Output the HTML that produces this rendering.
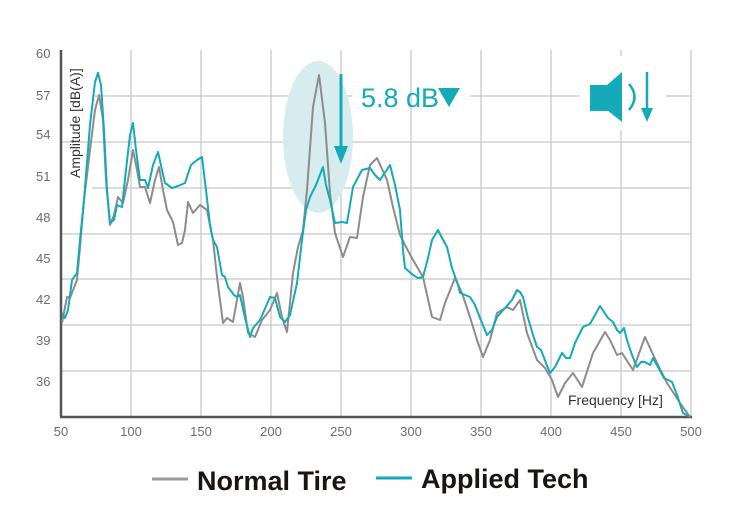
<!DOCTYPE html>
<html><head><meta charset="utf-8"><style>
html,body{margin:0;padding:0;background:#fff;}
svg{display:block;font-family:"Liberation Sans",sans-serif;}
</style></head><body>
<svg width="740" height="520" viewBox="0 0 740 520" xmlns="http://www.w3.org/2000/svg">
<g stroke="#c8c8c8" stroke-width="1.3" fill="none">
  <line x1="131" y1="50" x2="131" y2="417"/>
  <line x1="201" y1="50" x2="201" y2="417"/>
  <line x1="271" y1="50" x2="271" y2="417"/>
  <line x1="341" y1="50" x2="341" y2="417"/>
  <line x1="411" y1="50" x2="411" y2="417"/>
  <line x1="481" y1="50" x2="481" y2="417"/>
  <line x1="551" y1="50" x2="551" y2="417"/>
  <line x1="621" y1="50" x2="621" y2="56"/><line x1="621" y1="130" x2="621" y2="417"/>
  <line x1="691" y1="50" x2="691" y2="417"/>
  <line x1="92" y1="96" x2="352" y2="96"/><line x1="470" y1="96" x2="580" y2="96"/><line x1="666" y1="96" x2="691" y2="96"/>
  <line x1="61" y1="142" x2="691" y2="142"/>
  <line x1="92" y1="188" x2="691" y2="188"/>
  <line x1="61" y1="234" x2="691" y2="234"/>
  <line x1="61" y1="279" x2="691" y2="279"/>
  <line x1="61" y1="325" x2="691" y2="325"/>
  <line x1="61" y1="371" x2="691" y2="371"/>
</g>
<ellipse cx="318" cy="137" rx="35" ry="76" fill="#d6ecef"/>
<g stroke="#555" stroke-width="2.5"><line x1="61" y1="50" x2="61" y2="417"/><line x1="60" y1="417" x2="692" y2="417"/></g>
<g fill="#6b6b6b" font-size="13">
  <text x="36" y="58">60</text><text x="36" y="100">57</text><text x="36" y="139">54</text><text x="36" y="181">51</text><text x="36" y="222">48</text><text x="36" y="263">45</text><text x="36" y="304">42</text><text x="36" y="345">39</text><text x="36" y="386">36</text>
  <g text-anchor="middle"><text x="61" y="436">50</text><text x="131" y="436">100</text><text x="201" y="436">150</text><text x="271" y="436">200</text><text x="341" y="436">250</text><text x="411" y="436">300</text><text x="481" y="436">350</text><text x="551" y="436">400</text><text x="621" y="436">450</text><text x="691" y="436">500</text></g>
</g>
<text x="0" y="0" transform="translate(80,178) rotate(-90)" font-size="14" fill="#333">Amplitude [dB(A)]</text>
<text x="568" y="405" font-size="14" fill="#333">Frequency [Hz]</text>
<polyline fill="none" stroke="#8c8c8c" stroke-width="2" stroke-linejoin="round" points="62,323 67,297 70,298 77,280 80,247 84,200 90,150 95,110 99,95 103,120 106,180 110,225 114,215 118,197 123,203 128,180 133,150 137,170 140,187 145,187 150,203 155,180 159,167 163,190 167,210 173,222 178,245 182,243 185,230 188,202 193,213 200,205 207,210 213,240 217,277 223,323 227,318 233,322 240,283 243,297 248,333 255,337 262,320 270,310 277,293 282,317 287,332 293,273 298,247 303,230 307,190 313,107 319,75 325,123 330,193 335,233 343,257 350,237 357,238 363,197 370,165 377,158 387,180 393,207 400,235 405,245 413,260 423,277 432,317 440,320 445,303 455,278 462,293 470,317 477,340 483,357 490,340 497,313 507,307 513,310 520,300 527,333 537,360 545,368 552,380 558,397 565,383 573,373 582,387 593,353 605,332 610,340 617,355 622,353 633,370 645,337 650,348 657,363 667,383 680,403 690,417"/>
<polyline fill="none" stroke="#14aab9" stroke-width="2" stroke-linejoin="round" points="62,313 65,318 68,310 72,280 77,273 80,240 84,200 90,125 95,82 98,73 101,85 104,130 107,190 110,223 114,220 117,205 122,207 126,170 130,135 133,123 136,150 140,180 145,180 148,188 153,165 158,152 162,170 165,183 172,188 178,186 185,183 191,165 197,160 202,157 206,190 210,225 213,240 217,247 222,275 225,277 228,287 234,295 237,297 240,295 245,318 250,337 253,328 260,320 270,297 275,298 280,317 285,322 290,315 297,283 302,240 306,210 310,197 316,185 323,167 326,185 330,200 335,223 342,222 347,223 353,187 362,170 370,168 375,175 380,180 390,165 395,185 400,210 403,250 405,268 413,275 418,278 423,277 428,258 432,240 438,230 442,238 447,247 452,268 458,285 460,293 465,295 470,297 475,305 480,318 487,335 492,330 497,317 505,308 512,300 517,290 520,292 523,297 528,318 533,335 537,347 541,350 546,363 550,373 555,367 562,353 566,358 570,358 575,343 583,327 590,324 595,315 600,306 604,312 608,318 613,322 617,330 620,333 624,328 627,340 632,355 637,367 641,362 645,362 650,365 653,358 658,367 664,378 672,382 677,395 683,413 690,417"/>
<line x1="341" y1="74" x2="341" y2="150" stroke="#14aab9" stroke-width="3"/>
<polygon points="334,146 348,146 341,164" fill="#14aab9"/>
<text x="361" y="107" font-size="27" fill="#14aab9">5.8 dB</text>
<polygon points="438,88 460,88 449,107" fill="#14aab9"/>
<rect x="590" y="85" width="19" height="26" fill="#14aab9"/>
<polygon points="607,85 622,72 622,122 607,110" fill="#14aab9"/>
<path d="M629,84 Q640,97 629,110" fill="none" stroke="#14aab9" stroke-width="2.5"/>
<line x1="647" y1="72" x2="647" y2="112" stroke="#14aab9" stroke-width="2.5"/>
<polygon points="641,108 653,108 647,122" fill="#14aab9"/>
<line x1="152" y1="479" x2="188" y2="479" stroke="#9a9a9a" stroke-width="3"/>
<text x="197" y="490" font-size="27" font-weight="bold" fill="#1a1512">Normal Tire</text>
<line x1="376" y1="478" x2="412" y2="478" stroke="#14aab9" stroke-width="3"/>
<text x="421" y="488" font-size="27" font-weight="bold" fill="#1a1512">Applied Tech</text>
</svg>
</body></html>
